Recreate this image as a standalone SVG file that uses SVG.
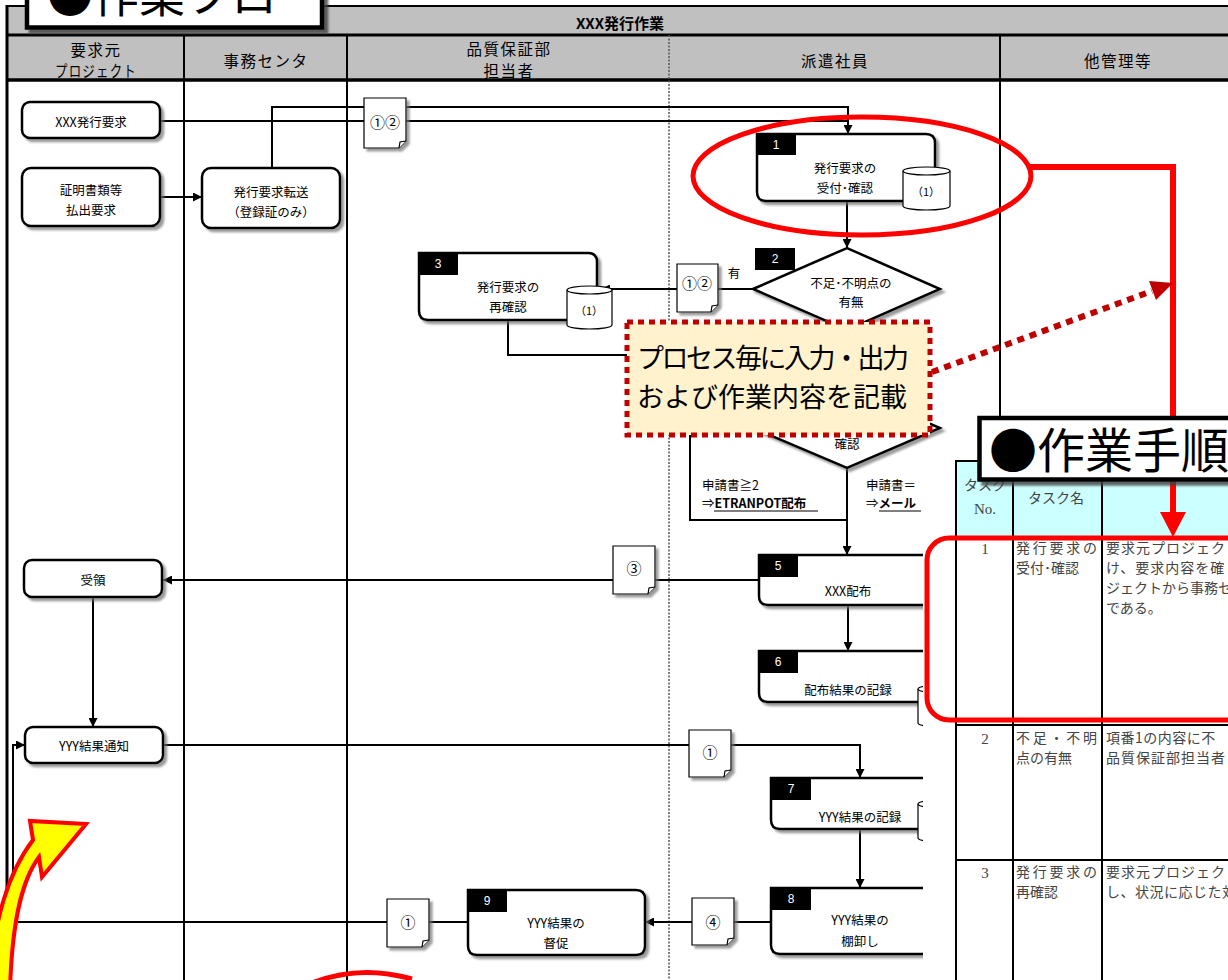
<svg xmlns="http://www.w3.org/2000/svg" width="1228" height="980" viewBox="0 0 1228 980">
<defs>
<style>
.j{font-family:"Noto Sans CJK JP","Noto Sans",sans-serif;}
.n{font-family:"Noto Sans CJK JP","Noto Sans",sans-serif;font-size:12.5px;text-anchor:middle;fill:#000;}
.hd{font-family:"Noto Sans CJK JP","Noto Sans",sans-serif;font-size:15.5px;text-anchor:middle;fill:#000;letter-spacing:1.5px;}
.lb{font-family:"Liberation Sans",sans-serif;font-size:12px;text-anchor:middle;fill:#fff;}
.doc{font-family:"Noto Sans CJK JP","Noto Sans",sans-serif;font-size:15px;text-anchor:middle;fill:#000;}
.cy{font-family:"Noto Sans CJK JP","Noto Sans",sans-serif;font-size:11px;text-anchor:middle;fill:#000;}
.tb{font-family:"Noto Sans CJK JP","Noto Sans",sans-serif;font-size:14px;fill:#444;}
.tn{font-family:"Liberation Serif","Noto Sans CJK JP",serif;font-size:15px;fill:#444;text-anchor:middle;}
.box{fill:#fff;stroke:#000;stroke-width:2.5;}
.rnd{fill:#fff;stroke:#000;stroke-width:2.5;}
.cyl{fill:#fff;stroke:#000;stroke-width:1.2;}
.dc{fill:#fff;stroke:#000;stroke-width:1.2;}
.ln{fill:none;stroke:#000;stroke-width:2;}
.lane{stroke:#000;stroke-width:2;}
.tl{stroke:#000;stroke-width:2;}
</style>
<marker id="ah" viewBox="0 0 10 10" refX="10" refY="5" markerWidth="9" markerHeight="9" markerUnits="userSpaceOnUse" orient="auto"><path d="M0,0 L10,5 L0,10 z" fill="#000"/></marker>
<filter id="sh" x="-10%" y="-10%" width="130%" height="140%"><feDropShadow dx="3" dy="3" stdDeviation="1" flood-color="#6f6f6f" flood-opacity="0.7"/></filter>
<filter id="sh2" x="-10%" y="-10%" width="130%" height="140%"><feDropShadow dx="4" dy="4" stdDeviation="1" flood-color="#404040" flood-opacity="0.8"/></filter>
</defs>

<g id="frame">
<rect x="0" y="0" width="1228" height="980" fill="#fff"/>
<rect x="7" y="6" width="1221" height="74" fill="#c0c0c0"/>
<line x1="7" y1="6" x2="1228" y2="6" stroke="#000" stroke-width="2"/>
<line x1="7" y1="35" x2="1228" y2="35" stroke="#000" stroke-width="3"/>
<line x1="7" y1="80" x2="1228" y2="80" stroke="#000" stroke-width="3.5"/>
<line x1="7" y1="5" x2="7" y2="980" stroke="#000" stroke-width="3"/>
<line x1="184" y1="35" x2="184" y2="980" class="lane"/>
<line x1="347" y1="35" x2="347" y2="980" class="lane"/>
<line x1="669" y1="35" x2="669" y2="980" stroke="#555" stroke-width="1.5" stroke-dasharray="2 1.5"/>
<line x1="1000" y1="35" x2="1000" y2="470" class="lane"/>
<text x="620" y="29" class="j" font-size="15" font-weight="bold" text-anchor="middle">XXX発行作業</text>
<text x="96" y="56" class="hd">要求元</text>
<text x="96" y="77" class="hd" textLength="82" lengthAdjust="spacingAndGlyphs">プロジェクト</text>
<text x="266" y="67" class="hd">事務センタ</text>
<text x="509" y="55" class="hd">品質保証部</text>
<text x="509" y="77" class="hd">担当者</text>
<text x="835" y="67" class="hd">派遣社員</text>
<text x="1118" y="67" class="hd">他管理等</text>
</g>

<g id="connectors">
<path class="ln" d="M272,168 V107 H848 V134" marker-end="url(#ah)"/>
<path class="ln" d="M160,121 H848"/>
<path class="ln" d="M160,197 H202" marker-end="url(#ah)"/>
<path class="ln" d="M847,201 V248" marker-end="url(#ah)"/>
<path class="ln" d="M753,289 H601" marker-end="url(#ah)"/>
<path class="ln" d="M508,320 V355 H627"/>
<path class="ln" d="M753,428 H690 V520 H847"/>
<path class="ln" d="M847,468 V555" marker-end="url(#ah)"/>
<path class="ln" d="M759,580 H163" marker-end="url(#ah)"/>
<path class="ln" d="M848,605 V651" marker-end="url(#ah)"/>
<path class="ln" d="M93,597 V727" marker-end="url(#ah)"/>
<path class="ln" d="M163,745 H860 V778" marker-end="url(#ah)"/>
<path class="ln" d="M860,829 V888" marker-end="url(#ah)"/>
<path class="ln" d="M771,922 H645" marker-end="url(#ah)"/>
<path class="ln" d="M468,922 H13 V745 H25" marker-end="url(#ah)"/>
<text x="734" y="278" class="n">有</text>
<text x="702" y="490" class="j" font-size="12.5">申請書≧2</text>
<text x="702" y="508" class="j" font-size="12.5">⇒<tspan font-weight="bold">ETRANPOT配布</tspan></text>
<line x1="714" y1="511" x2="818" y2="511" stroke="#000" stroke-width="1.2"/>
<text x="866" y="490" class="j" font-size="12.5">申請書＝</text>
<text x="866" y="508" class="j" font-size="12.5">⇒<tspan font-weight="bold">メール</tspan></text>
<line x1="879" y1="511" x2="921" y2="511" stroke="#000" stroke-width="1.2"/>
</g>

<g id="docs">
<path class="dc" filter="url(#sh)" d="M364,98 H406 V141 L399,148 H364 Z"/><path class="dc" d="M399,148 L400,142 L406,141"/>
<text x="385" y="128" class="doc">①②</text>
<path class="dc" filter="url(#sh)" d="M677,264 H718 V305 L711,312 H677 Z"/><path class="dc" d="M711,312 L712,306 L718,305"/>
<text x="697" y="289" class="doc">①②</text>
<path class="dc" filter="url(#sh)" d="M613,546 H655 V587 L648,594 H613 Z"/><path class="dc" d="M648,594 L649,588 L655,587"/>
<text x="634" y="574" class="doc">③</text>
<path class="dc" filter="url(#sh)" d="M689,730 H731 V770 L724,777 H689 Z"/><path class="dc" d="M724,777 L725,771 L731,770"/>
<text x="710" y="758" class="doc">①</text>
<path class="dc" filter="url(#sh)" d="M692,898 H734 V938 L727,945 H692 Z"/><path class="dc" d="M727,945 L728,939 L734,938"/>
<text x="713" y="928" class="doc">④</text>
<path class="dc" filter="url(#sh)" d="M387,899 H429 V940 L422,947 H387 Z"/><path class="dc" d="M422,947 L423,941 L429,940"/>
<text x="408" y="928" class="doc">①</text>
</g>

<g id="n-xxx-req">
<rect x="22" y="102" width="138" height="36" rx="8" class="rnd" filter="url(#sh)"/>
<text x="91" y="127" class="n">XXX発行要求</text>
</g>
<g id="n-cert-req">
<rect x="22" y="168" width="138" height="58" rx="9" class="rnd" filter="url(#sh)"/>
<text x="91" y="195" class="n">証明書類等</text>
<text x="91" y="215" class="n">払出要求</text>
</g>
<g id="n-forward">
<rect x="202" y="168" width="138" height="60" rx="9" class="rnd" filter="url(#sh)"/>
<text x="271" y="197" class="n">発行要求転送</text>
<text x="271" y="217" class="n">（登録証のみ）</text>
</g>

<g id="n1">
<path class="box" filter="url(#sh)" d="M757,134 H926 Q935,134 935,143 V192 Q935,201 926,201 H766 Q757,201 757,192 Z"/>
<rect x="757" y="134" width="39" height="21" fill="#000"/>
<text x="776" y="149" class="lb">1</text>
<text x="845" y="173" class="n">発行要求の</text>
<text x="845" y="193" class="n">受付･確認</text>
<path class="cyl" d="M903,171 V206 A23.5,4 0 0 0 950,206 V171"/>
<ellipse class="cyl" cx="926.5" cy="171" rx="23.5" ry="4"/>
<text x="926" y="196" class="cy">（1）</text>
</g>

<g id="n2">
<polygon class="box" filter="url(#sh)" points="753,289 847,248 940,289 847,330"/>
<rect x="755" y="248" width="40" height="22" fill="#000"/>
<text x="775" y="263" class="lb">2</text>
<text x="851" y="288" class="n">不足･不明点の</text>
<text x="851" y="307" class="n">有無</text>
</g>

<g id="n3">
<path class="box" filter="url(#sh)" d="M419,253 H588 Q597,253 597,262 V311 Q597,320 588,320 H428 Q419,320 419,311 Z"/>
<rect x="419" y="253" width="39" height="22" fill="#000"/>
<text x="438" y="268" class="lb">3</text>
<text x="508" y="292" class="n">発行要求の</text>
<text x="508" y="312" class="n">再確認</text>
<path class="cyl" d="M567,290 V325 A22.5,4 0 0 0 612,325 V290"/>
<ellipse class="cyl" cx="589.5" cy="290" rx="22.5" ry="4"/>
<text x="589" y="315" class="cy">（1）</text>
</g>

<g id="n4">
<polygon class="box" filter="url(#sh)" points="753,428 847,388 940,428 847,468"/>
<text x="847" y="449" class="n">確認</text>
</g>

<g id="n5">
<path class="box" filter="url(#sh)" d="M759,555 H928 Q937,555 937,564 V596 Q937,605 928,605 H768 Q759,605 759,596 Z"/>
<rect x="759" y="555" width="39" height="22" fill="#000"/>
<text x="778" y="570" class="lb">5</text>
<text x="848" y="596" class="n">XXX配布</text>
</g>

<g id="n6">
<path class="box" filter="url(#sh)" d="M759,651 H928 Q937,651 937,660 V693 Q937,702 928,702 H768 Q759,702 759,693 Z"/>
<rect x="759" y="651" width="39" height="22" fill="#000"/>
<text x="778" y="666" class="lb">6</text>
<text x="848" y="695" class="n">配布結果の記録</text>
<path class="cyl" d="M918,689 V723 A22.5,4 0 0 0 963,723 V689"/>
<ellipse class="cyl" cx="940.5" cy="689" rx="22.5" ry="4"/>
</g>

<g id="n7">
<path class="box" filter="url(#sh)" d="M771,778 H940 Q949,778 949,787 V820 Q949,829 940,829 H780 Q771,829 771,820 Z"/>
<rect x="771" y="778" width="40" height="22" fill="#000"/>
<text x="791" y="793" class="lb">7</text>
<text x="860" y="822" class="n">YYY結果の記録</text>
<path class="cyl" d="M918,804 V838 A22.5,4 0 0 0 963,838 V804"/>
<ellipse class="cyl" cx="940.5" cy="804" rx="22.5" ry="4"/>
</g>

<g id="n8">
<path class="box" filter="url(#sh)" d="M771,888 H940 Q949,888 949,897 V945 Q949,954 940,954 H780 Q771,954 771,945 Z"/>
<rect x="771" y="888" width="40" height="22" fill="#000"/>
<text x="791" y="903" class="lb">8</text>
<text x="860" y="925" class="n">YYY結果の</text>
<text x="860" y="946" class="n">棚卸し</text>
</g>

<g id="n9">
<path class="box" filter="url(#sh)" d="M468,890 H636 Q645,890 645,899 V946 Q645,955 636,955 H477 Q468,955 468,946 Z"/>
<rect x="468" y="890" width="39" height="22" fill="#000"/>
<text x="487" y="905" class="lb">9</text>
<text x="556" y="928" class="n">YYY結果の</text>
<text x="556" y="948" class="n">督促</text>
</g>

<g id="n-receive">
<rect x="24" y="560" width="138" height="37" rx="8" class="rnd" filter="url(#sh)"/>
<text x="93" y="585" class="n">受領</text>
</g>
<g id="n-notify">
<rect x="25" y="727" width="138" height="36" rx="8" class="rnd" filter="url(#sh)"/>
<text x="94" y="751" class="n">YYY結果通知</text>
</g>

<g id="table">
<rect x="923" y="462" width="305" height="518" fill="#fff"/>
<rect x="956" y="461" width="272" height="77" fill="#ccffff"/>
<line x1="956" y1="461" x2="1228" y2="461" class="tl"/>
<line x1="956" y1="460" x2="956" y2="980" class="tl"/>
<line x1="1013" y1="461" x2="1013" y2="980" class="tl"/>
<line x1="1102" y1="461" x2="1102" y2="980" class="tl"/>
<line x1="956" y1="538" x2="1228" y2="538" class="tl"/>
<line x1="956" y1="725" x2="1228" y2="725" class="tl"/>
<line x1="956" y1="860" x2="1228" y2="860" class="tl"/>
<text x="985" y="490" class="tb" text-anchor="middle">タスク</text>
<text x="985" y="514" class="tn">No.</text>
<text x="1056" y="503" class="tb" text-anchor="middle">タスク名</text>
<text x="985" y="554" class="tn">1</text>
<text x="1016" y="553" class="tb" textLength="81">発行要求の</text>
<text x="1016" y="573" class="tb">受付･確認</text>
<text x="1106" y="553" class="tb" letter-spacing="1">要求元プロジェクト</text>
<text x="1106" y="573" class="tb" letter-spacing="1">け、要求内容を確</text>
<text x="1106" y="593" class="tb">ジェクトから事務セ</text>
<text x="1106" y="613" class="tb">である。</text>
<text x="985" y="744" class="tn">2</text>
<text x="1016" y="743" class="tb" textLength="81">不足・不明</text>
<text x="1016" y="763" class="tb">点の有無</text>
<text x="1106" y="743" class="tb" letter-spacing="0.5">項番1の内容に不</text>
<text x="1106" y="763" class="tb" letter-spacing="1">品質保証部担当者</text>
<text x="985" y="878" class="tn">3</text>
<text x="1016" y="877" class="tb" textLength="81">発行要求の</text>
<text x="1016" y="897" class="tb">再確認</text>
<text x="1106" y="877" class="tb" letter-spacing="1">要求元プロジェク</text>
<text x="1106" y="897" class="tb" letter-spacing="0.5">し、状況に応じた対</text>
</g>

<g id="callout">
<rect x="627" y="322" width="303" height="113" fill="#fff2cc" stroke="#c00000" stroke-width="5" stroke-dasharray="6 5"/>
<text x="637" y="368" class="j" font-size="27" textLength="272">プロセス毎に入力・出力</text>
<text x="637" y="407" class="j" font-size="27">および作業内容を記載</text>
</g>

<g id="highlights">
<ellipse cx="862" cy="176" rx="169" ry="59" fill="none" stroke="#ff0000" stroke-width="5"/>
<path d="M1029,167 H1173 V514" fill="none" stroke="#ff0000" stroke-width="6"/>
<line x1="932" y1="372" x2="1152" y2="291" stroke="#c00000" stroke-width="6" stroke-dasharray="7 6"/>
<polygon points="1173,283 1156,300 1149,281" fill="#c00000"/>
<path d="M312,983 Q360,964 412,979" fill="none" stroke="#ff0000" stroke-width="5"/>
<path d="M33,840 L30,821 L86,824 L42,877 L39,857 C22,880 12,920 10,990 L-10,990 C-8,920 10,870 33,840 Z" fill="#ffff00" stroke="#ff0000" stroke-width="4" stroke-linejoin="miter"/>
</g>

<g id="title-flow">
<rect x="27" y="-40" width="295" height="67.5" fill="#fff" stroke="#000" stroke-width="4.5" filter="url(#sh2)"/>
<text x="47" y="12" class="j" font-size="46">●作業フロ</text>
</g>

<g id="title-procedure">
<rect x="979.5" y="418" width="300" height="61.5" fill="#fff" stroke="#000" stroke-width="4.5" filter="url(#sh2)"/>
<text x="989" y="468" class="j" font-size="48">●作業手順</text>
</g>

<g id="table-highlight">
<rect x="927" y="538" width="400" height="182" rx="22" fill="none" stroke="#ff0000" stroke-width="5"/>
<polygon points="1160,512 1186,512 1173,537" fill="#ff0000"/>
</g>
</svg>
